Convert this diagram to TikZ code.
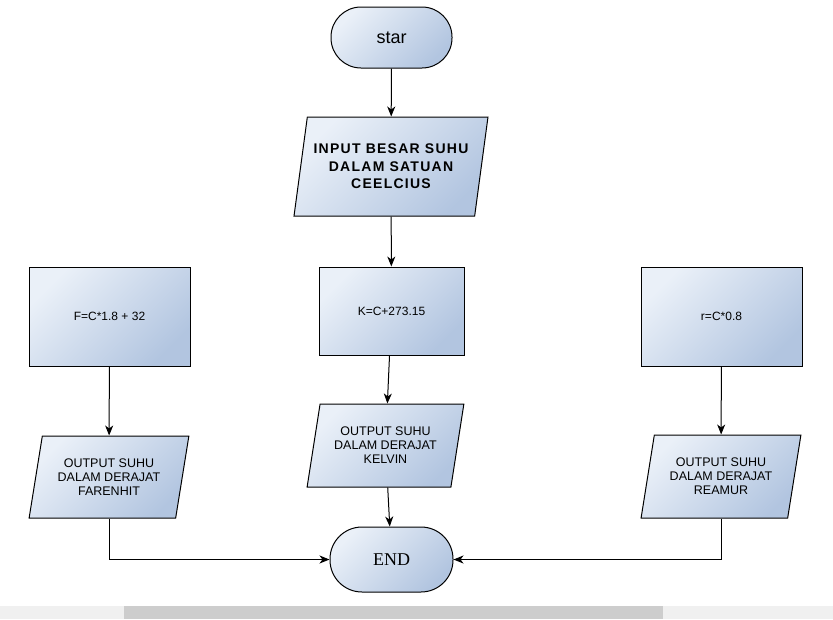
\documentclass[tikz,border=0pt]{standalone}
\usepackage{fontspec}
\setmainfont{Liberation Sans}
\newfontfamily\endfont{Liberation Serif}
\usetikzlibrary{shapes.geometric,arrows.meta}
\definecolor{shadelight}{HTML}{EAF0F8}
\definecolor{shadedark}{HTML}{B2C5E0}
\definecolor{barlight}{HTML}{F0F0F0}
\definecolor{bardark}{HTML}{CDCDCD}
\begin{document}
\begin{tikzpicture}[x=1pt,y=-1pt,
		blue shade/.style={draw, line width=1pt,
			left color=shadelight, right color=shadedark, shading angle=45},
		terminal/.style={blue shade, rectangle, rounded corners=30pt,
			minimum width=121pt, minimum height=61pt},
		process/.style={blue shade, rectangle, font=\fontsize{12}{14}\selectfont},
		io/.style={blue shade, trapezium, trapezium left angle=76,
			trapezium right angle=104, trapezium stretches=true,
			align=center, font=\fontsize{12.5}{14}\selectfont},
		flow/.style={line width=1pt, -{Stealth[length=10pt,width=8pt,inset=3pt]}}]
		
		\useasboundingbox (0,0) rectangle (833,619);
		
		% window bar
		\fill[barlight] (0,606) rectangle (833,619);
		\fill[bardark] (124,606) rectangle (663,619);
		
		% Start
		\node [terminal,
		font=\fontsize{18}{22}\selectfont] (start) at (391.5,37.5) {star};
		
		% Input
		\node [io,
		minimum width=194pt, minimum height=99pt,
		font=\fontsize{14}{17.5}\selectfont\bfseries\addfontfeature{LetterSpace=9}] (input) at (391,166.5)
		{INPUT BESAR SUHU\\DALAM SATUAN\\CEELCIUS};
		
		% Conversions
		\node [process,
		minimum width=161pt, minimum height=99pt] (fahr) at (109.5,316.5) {F=C*1.8 + 32};
		
		\node [process,
		minimum width=145pt, minimum height=88pt] (kelv) at (391.5,311) {K=C+273.15};
		
		\node [process,
		minimum width=161pt, minimum height=99pt] (ream) at (721.5,316.5) {r=C*0.8};
		
		% Outputs
		\node [io,
		minimum width=160pt, minimum height=82pt] (fahrout) at (109,477)
		{OUTPUT SUHU\\DALAM DERAJAT\\FARENHIT};
		
		\node [io,
		minimum width=157pt, minimum height=83pt] (kelvout) at (385.5,445.5)
		{OUTPUT SUHU\\DALAM DERAJAT\\KELVIN};
		
		\node [io,
		minimum width=160pt, minimum height=83pt] (reamout) at (721,476.5)
		{OUTPUT SUHU\\DALAM DERAJAT\\REAMUR};
		
		% End
		\node [terminal,
		minimum width=123pt, minimum height=65pt, rounded corners=32pt,
		font=\fontsize{18}{22}\endfont] (end) at (391.5,559.5) {END};
		
		% Connectors
		\draw [flow] (start) -- (input);
		\draw [flow] (input) -- (kelv);
		\draw [flow] (fahr) -- (fahrout);
		\draw [flow] (kelv) -- (kelvout);
		\draw [flow] (ream) -- (reamout);
		\draw [flow] (kelvout) -- (end);
		\draw [flow] (fahrout) |- (end);
		\draw [flow] (reamout) |- (end);
		
	\end{tikzpicture}
\end{document}
